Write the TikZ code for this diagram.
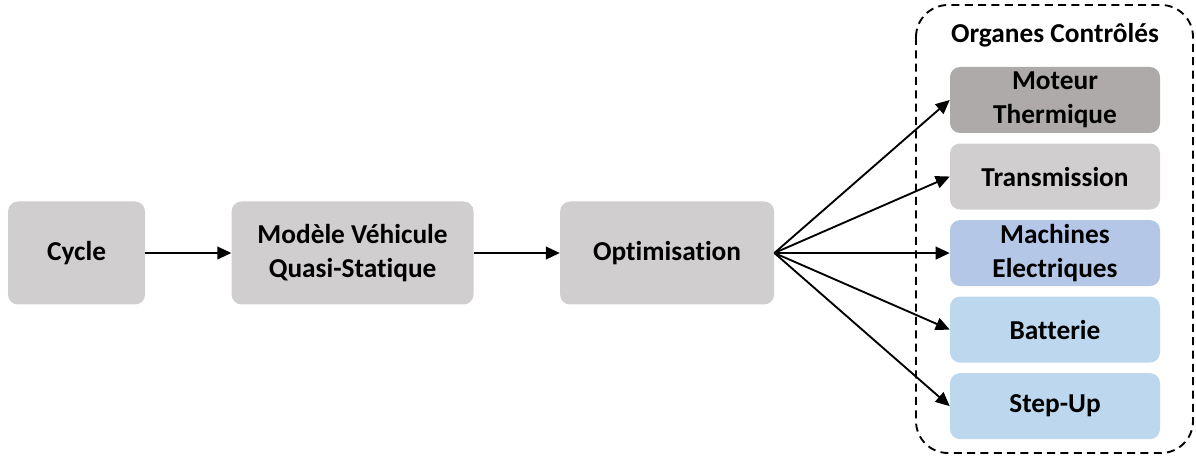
\documentclass[tikz,border=0pt]{standalone}
\usepackage{fontspec}
\setmainfont[Ligatures=NoCommon]{Carlito}
\usepackage{tikz}
\usetikzlibrary{positioning,arrows.meta}

\definecolor{grisclair}{HTML}{D0CECE}
\definecolor{grisfonce}{HTML}{AEAAAA}
\definecolor{bleumoyen}{HTML}{B4C7E7}
\definecolor{bleuclair}{HTML}{BDD7EE}

\begin{document}
\begin{tikzpicture}[
		font=\fontsize{20.5}{25.5}\selectfont\bfseries,
		bloc/.style={
			rectangle,rounded corners=7.5pt,fill=grisclair,align=center,
			minimum height=77.25pt,inner sep=2pt
		},
		organe/.style={
			rectangle,rounded corners=7.5pt,align=center,
			minimum width=157.5pt,minimum height=49.5pt,inner sep=1pt
		},
		fleche/.style={
			-{Triangle[length=10.5pt,width=9.5pt]},line width=1.4pt
		},
		node distance=64.5pt
		]
		\useasboundingbox (0,0) rectangle (897pt,-344.25pt);
		% chaine principale
		\node[bloc,minimum width=102.75pt] (cycle) at (57.4pt,-189.75pt) {Cycle};
		\node[bloc,minimum width=181.5pt,right=of cycle] (modele) {Mod\`ele V\'ehicule\\Quasi-Statique};
		\node[bloc,minimum width=160.5pt,right=of modele] (optim) {Optimisation};
		% organes
		\node[organe,fill=grisfonce] (moteur) at (791.25pt,-75pt) {Moteur\\Thermique};
		\node[organe,fill=grisclair,below=7.5pt of moteur] (transmission) {Transmission};
		\node[organe,fill=bleumoyen,below=7.5pt of transmission] (machines) {Machines\\Electriques};
		\node[organe,fill=bleuclair,below=7.5pt of machines] (batterie) {Batterie};
		\node[organe,fill=bleuclair,below=7.5pt of batterie] (stepup) {Step-Up};
		% cadre pointille
		\draw[dash pattern=on 6pt off 4pt,line width=1.4pt,rounded corners=24pt]
			(687pt,-3.75pt) rectangle (894.75pt,-339.75pt);
		\node (titre) at (791.25pt,-26.25pt) {Organes Contr\^ol\'es};
		% fleches
		\draw[fleche] (cycle) -- (modele);
		\draw[fleche] (modele) -- (optim);
		\foreach \cible in {moteur,transmission,machines,batterie,stepup}{
			\draw[fleche] (optim.east) -- (\cible.west);
		}
\end{tikzpicture}
\end{document}
